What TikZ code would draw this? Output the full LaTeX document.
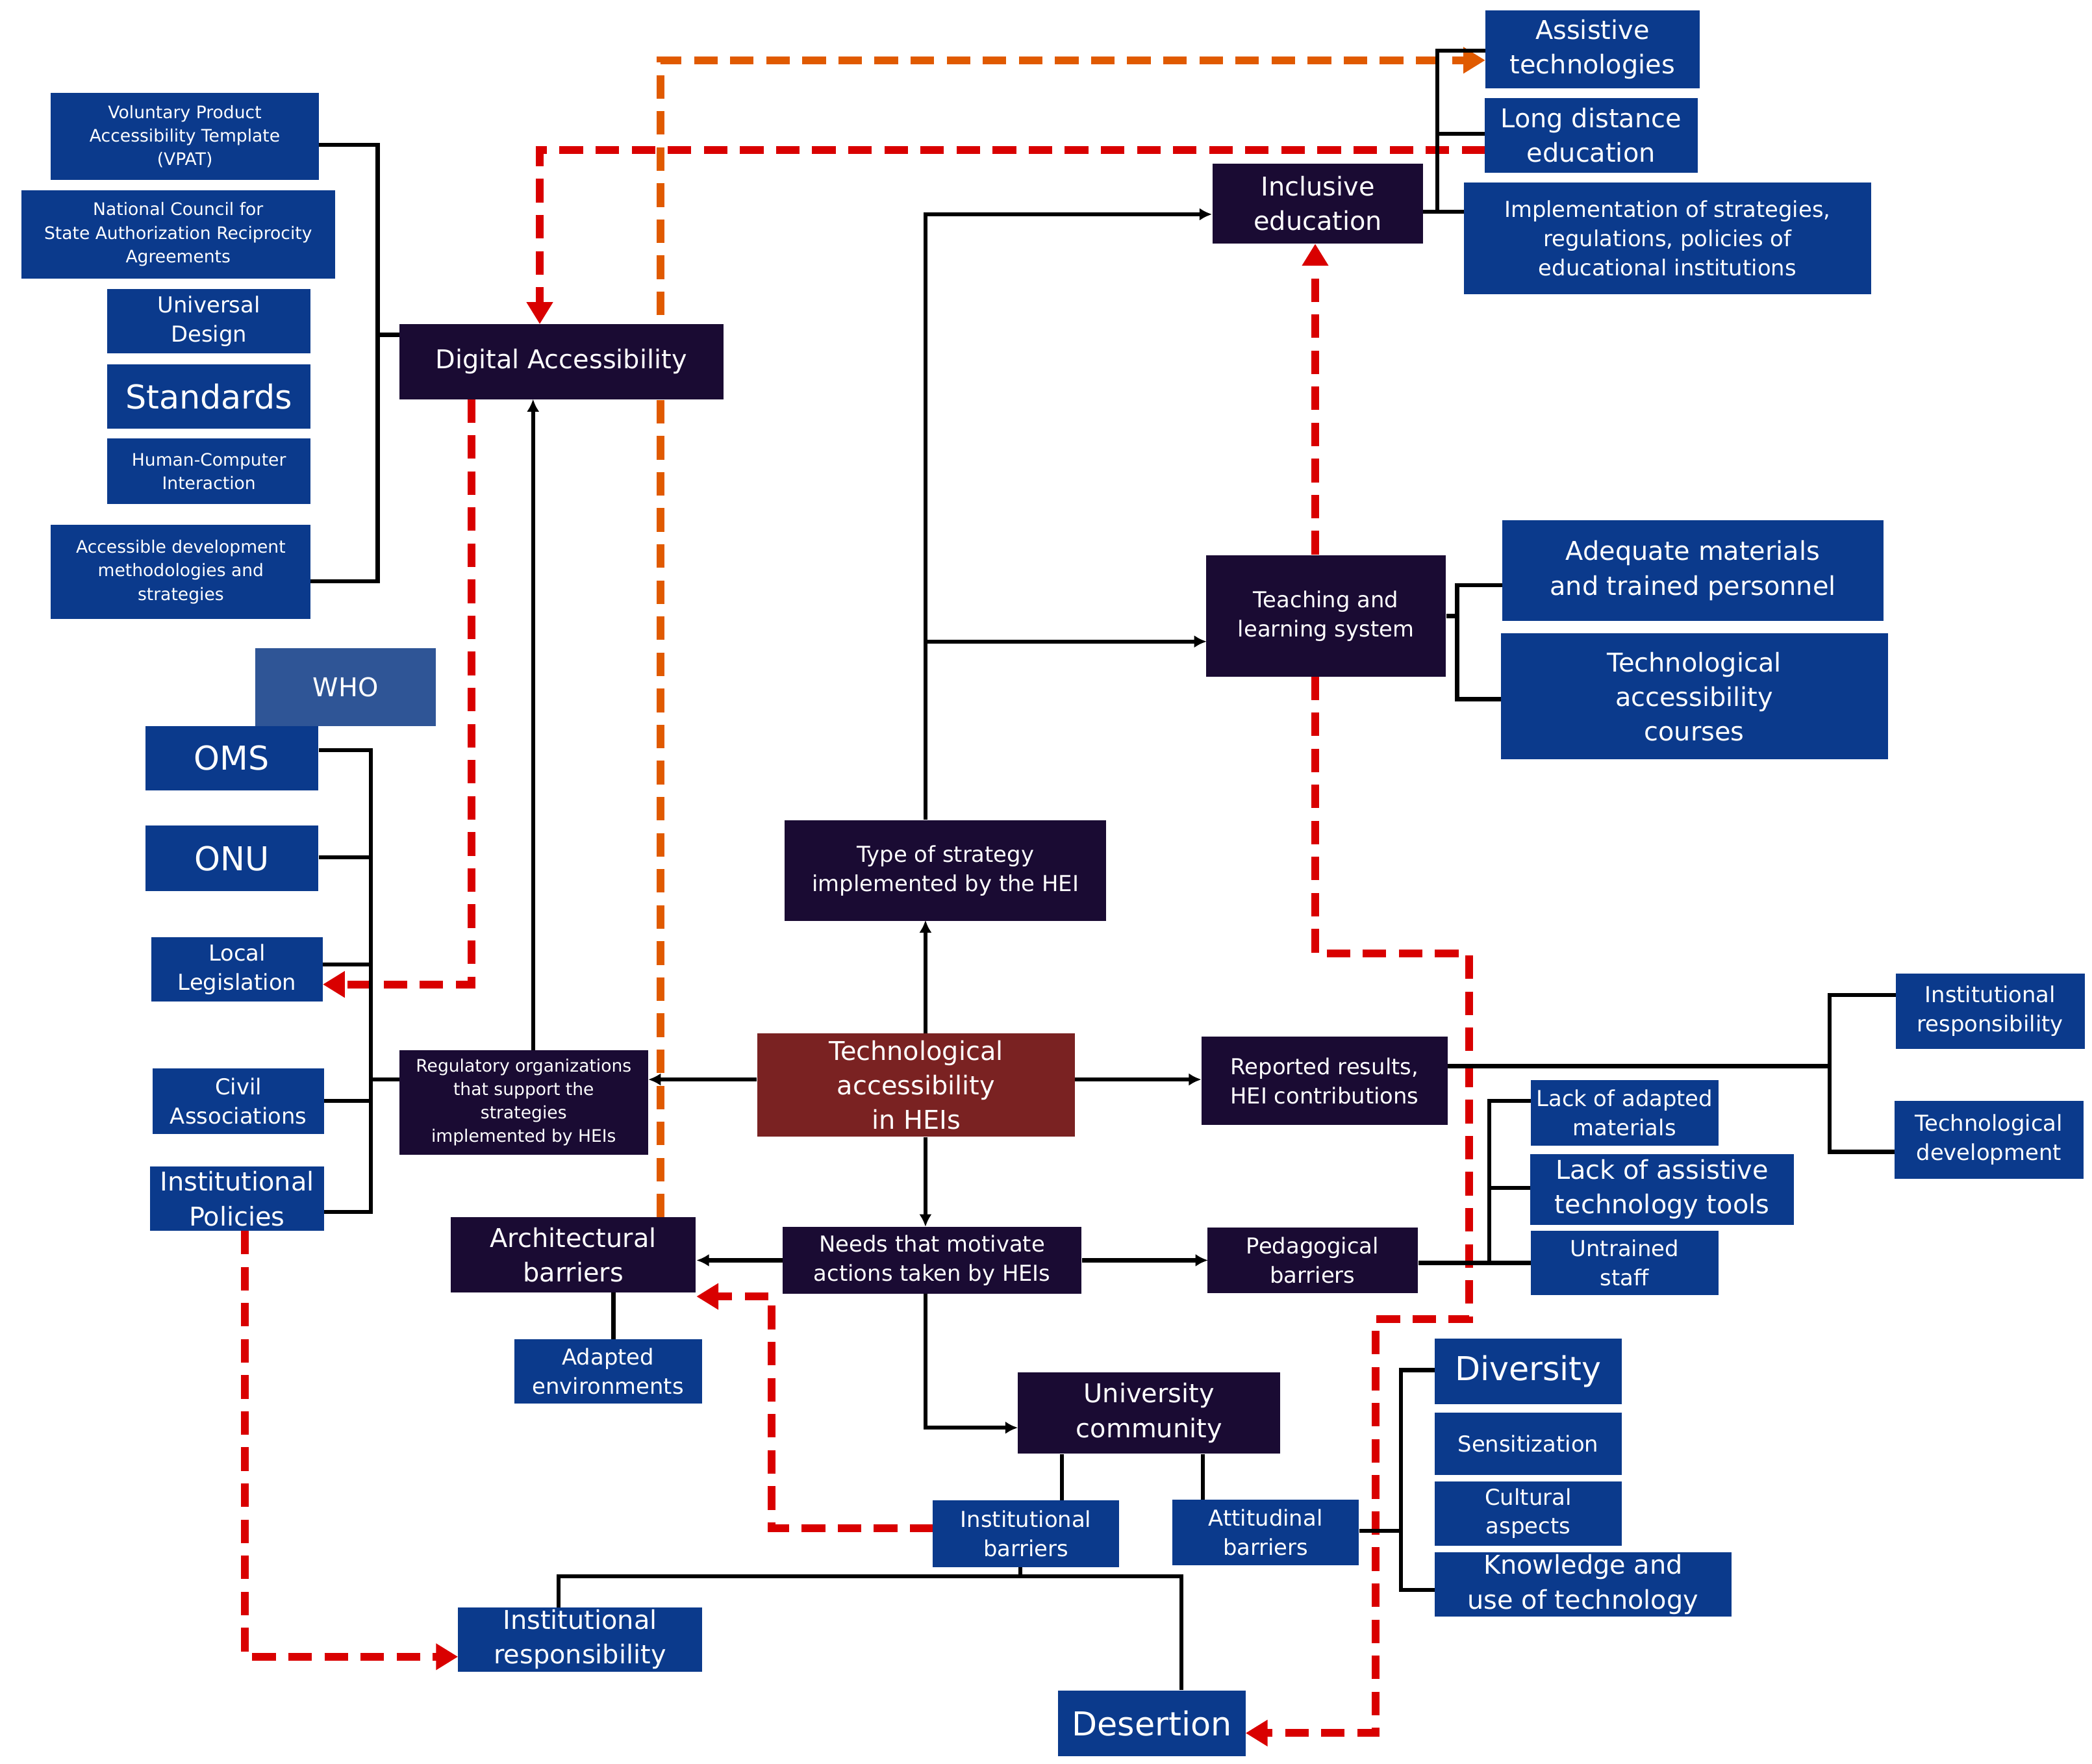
\documentclass[tikz,border=0pt]{standalone}
\usepackage{fontspec}
\setmainfont{DejaVu Sans}
\usetikzlibrary{arrows.meta}
\newlength\pu \setlength\pu{0.03cm}
\definecolor{navy}{HTML}{1A0B33}
\definecolor{bblue}{HTML}{0B3A8C}
\definecolor{wblue}{HTML}{2F5596}
\definecolor{dred}{HTML}{7A2222}
\definecolor{rdash}{HTML}{D90000}
\definecolor{odash}{HTML}{E05A00}
\newcommand\fa{\fontsize{11}{15}\selectfont}
\newcommand\fb{\fontsize{14}{18.5}\selectfont}
\newcommand\fc{\fontsize{16.5}{22}\selectfont}
\newcommand\fd{\fontsize{21}{25}\selectfont}
\tikzset{
 bx/.style={draw=none,text=white,align=center,inner sep=0pt},
 bl/.style={bx,fill=bblue},
 dk/.style={bx,fill=navy},
 ln/.style={line width=2.6pt,black},
 ar/.style={ln,-{Latex[length=8pt,width=8pt]}},
 rd/.style={line width=5pt,rdash,dash pattern=on 15pt off 8pt,-{Triangle[length=14pt,width=16pt]}},
 od/.style={line width=5pt,odash,dash pattern=on 15pt off 8pt,-{Triangle[length=14pt,width=16pt]}},
}
\newcommand\bxn[7]{\node[#6,minimum width=#4\pu,minimum height=#5\pu] (#1) at (#2,#3) {#7};}
\begin{document}
\begin{tikzpicture}[x=0.03cm,y=-0.03cm]
\useasboundingbox (0,0) rectangle (1562,1317);
% dashed arrows (behind)
\coordinate (o1) at (493,45); \coordinate (r1) at (403,112);
\draw[od] (493,909) -- (o1) -- (1109,45);
\draw[rd] (1109,112) -- (r1) -- (403,242);
\draw[rd] (352,298) -- (352,735) -- (241,735);
\draw[rd] (982,414) -- (982,182);
\draw[rd] (982,505) -- (982,712) -- (1097,712) -- (1097,985) -- (1027,985) -- (1027,1294) -- (930,1294);
\draw[rd] (697,1141) -- (576,1141) -- (576,968) -- (520,968);
\draw[rd] (183,919) -- (183,1237) -- (342,1237);
% black lines
\draw[ln] (238,108) -- (282,108) -- (282,434) -- (232,434);
\draw[ln] (282,250) -- (298,250);
\draw[ln] (238,560) -- (277,560) -- (277,905) -- (242,905);
\draw[ln] (238,640) -- (277,640);
\draw[ln] (241,720) -- (277,720);
\draw[ln] (242,822) -- (277,822);
\draw[ln] (277,806) -- (298,806);
\draw[ar] (398,784) -- (398,298);
\draw[ar] (565,806) -- (484,806);
\draw[ar] (802,806) -- (897,806);
\draw[ar] (691,772) -- (691,687);
\draw[ar] (691,612) -- (691,160) -- (905,160);
\draw[ar] (691,479) -- (901,479);
\draw[ln] (1080,460) -- (1088,460);
\draw[ln] (1122,437) -- (1088,437) -- (1088,522) -- (1121,522);
\draw[ln] (1109,38) -- (1073,38) -- (1073,158) -- (1062,158);
\draw[ln] (1109,100) -- (1073,100);
\draw[ln] (1073,158) -- (1093,158);
\draw[ar] (691,849) -- (691,916);
\draw[ar] (585,941) -- (520,941);
\draw[ar] (808,941) -- (902,941);
\draw[ln] (458,965) -- (458,1000);
\draw[ln] (1059,943) -- (1143,943);
\draw[ln] (1143,822) -- (1112,822) -- (1112,943);
\draw[ln] (1112,887) -- (1143,887);
\draw[ln] (1081,796) -- (1366,796);
\draw[ln] (1416,743) -- (1366,743) -- (1366,860) -- (1415,860);
\draw[ar] (691,966) -- (691,1066) -- (760,1066);
\draw[ln] (793,1086) -- (793,1120);
\draw[ln] (898,1086) -- (898,1120);
\draw[ln] (1015,1143) -- (1046,1143);
\draw[ln] (1071,1023) -- (1046,1023) -- (1046,1187) -- (1071,1187);
\draw[ln] (762,1170) -- (762,1177);
\draw[ln] (417,1200) -- (417,1177) -- (882,1177) -- (882,1262);
% nodes
\bxn{vpat}{138}{102}{200}{65}{bl,font=\fa}{Voluntary Product\\Accessibility Template\\(VPAT)}
\bxn{ncs}{133}{175}{234}{66}{bl,font=\fa}{National Council for\\State Authorization Reciprocity\\Agreements}
\bxn{ud}{156}{240}{152}{48}{bl,font=\fb}{Universal\\Design}
\bxn{std}{156}{296}{152}{48}{bl,font=\fd}{Standards}
\bxn{hci}{156}{352}{152}{49}{bl,font=\fa}{Human-Computer\\Interaction}
\bxn{adm}{135}{427}{194}{70}{bl,font=\fa}{Accessible development\\methodologies and\\strategies}
\bxn{da}{419}{270}{242}{56}{dk,font=\fc}{Digital Accessibility}
\bxn{who}{258}{513}{135}{58}{bx,fill=wblue,font=\fc}{WHO}
\bxn{oms}{173}{566}{129}{48}{bl,font=\fd}{OMS}
\bxn{onu}{173}{641}{129}{49}{bl,font=\fd}{ONU}
\bxn{loc}{177}{724}{128}{48}{bl,font=\fb}{Local\\Legislation}
\bxn{civ}{178}{822}{128}{49}{bl,font=\fb}{Civil\\Associations}
\bxn{ipol}{177}{895}{130}{48}{bl,font=\fc}{Institutional\\Policies}
\bxn{reg}{391}{823}{186}{78}{dk,font=\fa}{Regulatory organizations\\that support the\\strategies\\implemented by HEIs}
\bxn{cen}{684}{810}{237}{77}{bx,fill=dred,font=\fc}{Technological\\accessibility\\in HEIs}
\bxn{rep}{989}{807}{184}{66}{dk,font=\fb}{Reported results,\\HEI contributions}
\bxn{typ}{706}{650}{240}{75}{dk,font=\fb}{Type of strategy\\implemented by the HEI}
\bxn{inc}{984}{152}{157}{60}{dk,font=\fc}{Inclusive\\education}
\bxn{tea}{990}{460}{179}{91}{dk,font=\fb}{Teaching and\\learning system}
\bxn{adq}{1264}{426}{285}{75}{bl,font=\fc}{Adequate materials\\and trained personnel}
\bxn{tac}{1265}{520}{289}{94}{bl,font=\fc}{Technological\\accessibility\\courses}
\bxn{ast}{1189}{37}{160}{58}{bl,font=\fc}{Assistive\\technologies}
\bxn{lde}{1188}{101}{159}{56}{bl,font=\fc}{Long distance\\education}
\bxn{imp}{1245}{178}{304}{83}{bl,font=\fb}{Implementation of strategies,\\regulations, policies of\\educational institutions}
\bxn{need}{696}{941}{223}{50}{dk,font=\fb}{Needs that motivate\\actions taken by HEIs}
\bxn{arch}{428}{937}{183}{56}{dk,font=\fc}{Architectural\\barriers}
\bxn{aenv}{454}{1024}{140}{48}{bl,font=\fb}{Adapted\\environments}
\bxn{ped}{980}{941}{157}{49}{dk,font=\fb}{Pedagogical\\barriers}
\bxn{lam}{1213}{831}{140}{49}{bl,font=\fb}{Lack of adapted\\materials}
\bxn{lat}{1241}{888}{197}{53}{bl,font=\fc}{Lack of assistive\\technology tools}
\bxn{uns}{1213}{943}{140}{48}{bl,font=\fb}{Untrained\\staff}
\bxn{ir1}{1486}{755}{141}{56}{bl,font=\fb}{Institutional\\responsibility}
\bxn{tdv}{1485}{851}{141}{58}{bl,font=\fb}{Technological\\development}
\bxn{uni}{858}{1055}{196}{61}{dk,font=\fc}{University\\community}
\bxn{ibar}{766}{1145}{139}{50}{bl,font=\fb}{Institutional\\barriers}
\bxn{att}{945}{1144}{139}{49}{bl,font=\fb}{Attitudinal\\barriers}
\bxn{div}{1141}{1024}{140}{49}{bl,font=\fd}{Diversity}
\bxn{sen}{1141}{1078}{140}{47}{bl,font=\fb}{Sensitization}
\bxn{cul}{1141}{1130}{140}{48}{bl,font=\fb}{Cultural\\aspects}
\bxn{kno}{1182}{1183}{222}{48}{bl,font=\fc}{Knowledge and\\use of technology}
\bxn{ir2}{433}{1224}{182}{48}{bl,font=\fc}{Institutional\\responsibility}
\bxn{des}{860}{1287}{140}{49}{bl,font=\fd}{Desertion}
\end{tikzpicture}
\end{document}
